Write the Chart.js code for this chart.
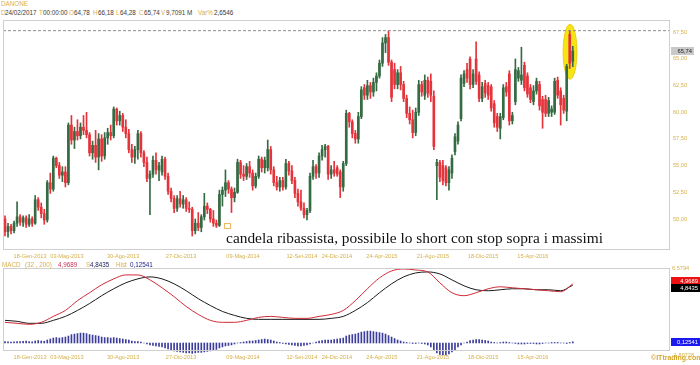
<!DOCTYPE html>
<html>
<head>
<meta charset="utf-8">
<script src="https://cdn.jsdelivr.net/npm/chart.js@4.4.1/dist/chart.umd.min.js"></script>
<style>
  html, body { margin: 0; padding: 0; background: #fff; }
  body { position: relative; width: 700px; height: 365px; overflow: hidden; font-family: "Liberation Sans", Arial, sans-serif; }
  canvas { position: absolute; left: 0; }
  #main { top: 0; }
  #macd { top: 256px; }
  .t { position: absolute; font-size: 6.3px; line-height: 8px; white-space: pre; }
  .g { color: #d6b04a; }
  .d { color: #3a3a3a; }
</style>
</head>
<body>
<div class="t g" style="left:1px;top:0px;">DANONE</div>
<div class="t g" style="left:1px;top:9px;">D</div><div class="t d" style="left:5px;top:9px;">24/02/2017</div>
<div class="t g" style="left:39px;top:9px;">T</div><div class="t d" style="left:43px;top:9px;">00:00:00</div>
<div class="t g" style="left:69px;top:9px;">O</div><div class="t d" style="left:74px;top:9px;">64,78</div>
<div class="t g" style="left:93px;top:9px;">H</div><div class="t d" style="left:98px;top:9px;">66,18</div>
<div class="t g" style="left:116px;top:9px;">L</div><div class="t d" style="left:120px;top:9px;">64,28</div>
<div class="t g" style="left:139px;top:9px;">C</div><div class="t d" style="left:144px;top:9px;">65,74</div>
<div class="t g" style="left:161px;top:9px;">V</div><div class="t d" style="left:166px;top:9px;">9,7091 M</div>
<div class="t g" style="left:198px;top:9px;">Var%</div><div class="t d" style="left:214px;top:9px;">2,6546</div>

<canvas id="main" width="700" height="262"></canvas>
<canvas id="macd" width="700" height="109"></canvas>

<div class="t g" style="left:2px;top:261px;">MACD</div>
<div class="t g" style="left:25px;top:261px;">(32 , 200)</div>
<div class="t" style="left:58px;top:261px;color:#c8305a;">4,9689</div>
<div class="t g" style="left:86px;top:261px;">S</div>
<div class="t" style="left:90px;top:261px;color:#20205a;">4,8435</div>
<div class="t g" style="left:116px;top:261px;">Hist</div>
<div class="t" style="left:130px;top:261px;color:#20208a;">0,12541</div>
<div class="t" style="left:651px;top:354px;color:#d6a830;font-weight:bold;font-size:7px;">©ITtrading.com</div>

<script>
// Weekly DANONE candles (EUR)
const opens  = [50.0,48.8,49.3,48.9,49.6,50.2,49.7,50.1,49.5,50.0,49.6,51.8,51.1,50.5,49.9,53.4,52.8,55.7,55.0,54.1,54.4,53.4,58.8,57.4,58.2,57.8,58.6,58.3,57.9,56.2,56.9,55.8,57.5,55.9,57.6,58.1,57.8,60.3,59.2,59.7,58.6,58.0,56.5,55.8,56.5,58.0,56.2,55.3,53.8,54.2,55.5,54.6,54.4,55.6,54.0,52.6,51.9,51.0,51.9,51.4,51.8,51.0,50.9,48.9,49.6,49.2,50.2,51.2,50.9,50.0,49.6,49.4,52.3,52.7,53.4,52.8,52.0,52.5,55.3,54.2,54.0,54.9,54.3,53.1,54.0,55.6,54.8,54.8,56.5,54.6,53.4,53.0,53.6,53.0,55.2,54.5,53.6,52.4,51.6,51.0,50.4,50.8,54.0,54.9,54.3,55.9,56.5,56.8,54.2,54.6,54.8,54.4,53.0,55.2,59.9,59.1,58.0,57.5,59.6,62.3,61.6,62.5,61.9,62.8,63.4,64.6,66.5,67.0,64.7,64.0,62.6,63.7,62.6,61.3,59.9,59.3,58.1,60.0,62.6,61.6,63.0,62.9,61.5,55.0,55.3,55.0,54.8,53.4,54.3,56.3,57.3,59.4,62.7,64.0,65.0,62.6,65.0,63.5,61.3,62.7,62.5,62.4,60.8,59.6,58.5,59.5,62.4,63.6,59.2,61.0,63.2,63.0,64.4,63.4,62.3,61.0,62.0,62.6,61.2,61.2,59.9,60.0,60.0,63.0,62.0,61.3,60.1,67.3,64.78];
const highs  = [50.3,49.6,49.5,49.8,51.6,50.4,50.3,50.3,50.4,50.2,52.2,52.0,51.5,50.9,53.6,54.3,55.9,55.8,55.3,54.9,54.9,59.0,59.7,58.6,59.3,59.0,59.7,60.0,58.1,57.3,58.3,58.0,57.9,58.1,58.5,58.8,60.5,60.4,60.1,59.9,59.3,58.4,57.0,56.8,58.3,58.2,56.4,55.8,54.5,55.9,56.2,55.3,55.9,55.8,54.3,52.9,52.2,52.2,52.6,52.2,52.0,51.6,51.1,50.0,50.6,50.4,52.4,51.5,51.0,50.8,49.9,52.7,53.0,54.6,53.6,53.0,52.9,55.6,55.5,55.0,55.2,55.4,54.6,54.3,55.9,55.8,55.8,57.4,56.8,54.9,54.0,53.9,53.9,55.6,55.4,55.0,53.9,52.8,52.7,51.5,51.0,54.3,55.5,55.1,56.2,56.9,57.0,56.9,55.0,55.4,55.0,54.6,55.4,60.2,60.0,59.3,58.3,60.0,62.4,62.6,63.0,62.8,63.2,63.7,64.9,67.0,67.3,67.65,64.9,64.6,64.0,64.3,62.9,61.6,60.5,60.2,60.4,63.0,62.9,63.5,63.3,63.6,62.0,55.6,55.5,55.5,55.0,54.9,56.0,58.0,59.1,63.5,63.9,64.6,65.2,64.0,66.6,63.8,62.8,63.0,62.8,62.6,61.1,59.9,59.9,62.6,62.8,63.9,60.0,65.0,64.2,66.1,64.7,63.7,62.6,62.5,63.2,62.9,61.5,61.6,61.4,60.6,63.2,63.3,62.3,61.6,64.5,67.6,66.18];
const lows   = [48.4,48.3,48.6,48.7,49.3,49.4,49.3,49.2,49.3,49.3,49.5,50.8,50.1,49.5,49.7,52.4,52.6,54.8,53.8,53.5,53.0,53.2,57.0,56.6,57.4,57.5,57.9,57.6,55.9,55.6,55.3,54.6,55.4,55.6,57.0,57.4,57.6,58.8,58.8,58.2,57.6,56.2,55.3,55.2,55.6,55.8,54.9,53.5,50.4,53.9,54.2,53.6,54.1,53.7,52.3,51.6,50.6,50.7,51.1,51.0,50.7,50.6,48.4,48.6,48.9,48.8,49.9,50.5,49.7,49.3,49.2,49.3,51.2,52.1,52.4,50.6,51.6,52.4,53.8,53.6,53.7,53.9,52.7,52.9,53.8,54.4,54.3,54.5,54.2,53.1,52.7,52.6,52.7,52.8,54.1,53.3,52.0,51.2,50.8,50.1,49.9,50.6,53.7,53.8,53.9,55.5,55.8,53.7,53.8,54.0,54.0,52.0,52.6,55.0,58.6,57.6,57.1,57.1,59.4,61.2,61.2,61.3,61.5,62.0,63.2,64.3,65.6,64.4,61.0,62.2,62.2,62.1,61.0,59.5,58.9,57.6,57.8,59.7,61.5,61.2,61.4,61.0,56.5,51.8,53.5,53.2,53.1,52.7,53.8,56.0,57.0,59.2,62.4,62.8,62.2,62.3,62.6,61.0,61.0,61.4,61.2,60.1,58.6,58.2,57.5,59.3,61.5,58.8,58.9,60.7,62.9,62.6,62.0,61.4,60.9,60.7,61.7,60.2,58.5,59.6,59.6,59.6,59.8,61.3,58.8,59.9,59.2,64.1,64.28];
const closes = [48.8,49.3,48.9,49.6,50.2,49.7,50.1,49.5,50.0,49.6,51.8,51.1,50.5,49.9,53.4,52.8,55.7,55.0,54.1,54.4,53.4,58.8,57.4,58.2,57.8,58.6,58.3,57.9,56.2,56.9,55.8,57.5,55.9,57.6,58.1,57.8,60.3,59.2,59.7,58.6,58.0,56.5,55.8,56.5,58.0,56.2,55.3,53.8,54.2,55.5,54.6,55.0,55.6,54.0,52.6,51.9,51.0,51.9,51.4,51.8,51.0,50.9,48.9,49.6,49.2,50.2,51.2,50.9,50.0,49.6,49.4,52.3,52.7,53.4,52.8,52.0,52.5,55.3,54.2,54.0,54.9,54.3,53.1,54.0,55.6,54.8,55.5,56.5,54.6,53.4,53.0,53.6,53.0,55.2,54.5,53.6,52.4,51.6,51.0,50.4,50.8,54.0,54.9,54.3,55.9,56.5,56.8,54.2,54.6,54.3,54.2,53.0,55.2,59.9,59.1,58.0,57.5,59.6,62.1,61.6,62.5,61.9,62.8,63.4,64.6,66.5,67.0,64.7,61.4,62.6,63.7,62.6,61.3,59.9,59.3,58.1,60.0,62.6,61.9,63.0,61.8,61.6,56.8,55.3,53.9,53.6,53.4,54.6,55.7,57.7,58.8,63.2,63.6,63.2,62.6,63.6,62.9,61.3,62.4,61.8,61.6,60.4,59.0,58.6,59.6,62.3,61.9,59.2,59.7,64.0,63.9,63.5,62.3,61.7,61.2,62.0,62.9,60.6,60.0,59.9,61.1,60.3,62.9,61.6,60.7,60.2,64.3,64.6,65.74];

// Price axis and date labels
const priceTicks = [50, 52.5, 55, 57.5, 60, 62.5, 65, 67.5];
const dateTickAt = [8.3, 20.5, 39.1, 58.3, 78.8, 98.3, 109.9, 124.8, 141.7, 158.3, 174.8];
const dateLabels = ['18-Gen-2013','03-Mag-2013','30-Ago-2013','27-Dic-2013','09-Mag-2014','12-Set-2014','24-Dic-2014','24-Apr-2015','21-Ago-2015','18-Dic-2015','15-Apr-2016'];
const resistance = 67.65;   // previous high, April 2015

// MACD (32,200): lines sampled every 4th week, histogram every week
const macdAt     = [0,4,8,12,16,20,24,28,32,36,40,44,48,52,56,60,64,68,72,76,80,84,88,92,96,100,104,108,112,116,120,124,128,132,136,140,144,148,152,156,160,164,168,172,176,180,184,188];
const macdLine   = [1.09,0.99,0.89,1.09,1.69,2.29,3.28,4.08,4.88,5.48,5.88,5.88,5.38,4.58,3.68,2.69,1.89,1.29,1.09,1.09,1.29,1.59,1.69,1.59,1.49,1.49,1.69,1.89,2.29,3.28,4.48,5.58,6.28,6.48,6.38,6.18,5.08,4.08,3.78,4.08,4.48,4.68,4.58,4.48,4.38,4.28,4.18,4.9689];
const signalLine = [1.29,1.19,0.99,0.99,1.29,1.69,2.29,2.99,3.78,4.48,5.08,5.48,5.68,5.48,4.98,4.28,3.48,2.79,2.19,1.79,1.49,1.39,1.39,1.39,1.39,1.39,1.39,1.49,1.69,2.29,3.08,4.08,4.98,5.68,6.08,6.18,5.98,5.38,4.78,4.38,4.28,4.38,4.48,4.48,4.38,4.38,4.28,4.8435];
const histogram  = [0.15,0.12,0.1,0.12,0.15,0.15,0.18,0.2,0.15,0.12,0.2,0.25,0.2,0.18,0.3,0.4,0.5,0.55,0.5,0.55,0.6,0.7,0.85,0.9,0.95,1.0,1.0,0.95,0.85,0.8,0.75,0.7,0.6,0.55,0.55,0.5,0.55,0.5,0.45,0.4,0.35,0.3,0.2,0.15,0.15,0.1,0.0,-0.1,-0.2,-0.25,-0.3,-0.35,-0.4,-0.5,-0.6,-0.7,-0.8,-0.85,-0.9,-0.95,-1.0,-1.0,-1.05,-1.0,-0.95,-0.95,-0.9,-0.85,-0.8,-0.75,-0.65,-0.5,-0.4,-0.3,-0.25,-0.2,-0.1,0.0,0.05,0.1,0.15,0.2,0.2,0.25,0.3,0.35,0.4,0.35,0.3,0.2,0.1,0.05,-0.05,-0.1,-0.15,-0.2,-0.25,-0.3,-0.3,-0.25,-0.2,-0.1,0.0,0.1,0.2,0.25,0.3,0.3,0.3,0.35,0.4,0.45,0.5,0.7,0.8,0.85,0.9,1.0,1.1,1.15,1.2,1.2,1.15,1.1,1.05,1.0,0.9,0.75,0.6,0.45,0.3,0.2,0.1,0.05,0.0,-0.05,-0.05,0.0,-0.05,-0.1,-0.2,-0.4,-0.7,-1.0,-1.15,-1.2,-1.2,-1.1,-0.9,-0.7,-0.4,-0.2,0.0,0.1,0.25,0.3,0.35,0.35,0.3,0.25,0.2,0.1,0.05,0.0,0.05,0.1,0.1,0.05,0.0,-0.05,-0.1,-0.1,-0.1,-0.05,-0.05,-0.05,-0.1,-0.1,-0.05,0.0,0.0,0.05,0.05,0.05,0.0,0.0,-0.05,0.05,0.12541];
const macdTop = 6.5794, macdBottom = -1.80728;

const GOLD = '#d6b04a', UP = '#356b43', DOWN = '#e5333b';
const X_MIN = -0.66, X_MAX = 220.2;
const fmt = (v, d) => v.toFixed(d).replace('.', ',');
const idx = opens.map((_, i) => i);
const candleColor = idx.map(i => closes[i] >= opens[i] ? UP : DOWN);
const tickFont = { family: 'Liberation Sans', size: 5.6 };

Chart.defaults.animation = false;
Chart.defaults.responsive = false;
Chart.defaults.events = [];
Chart.defaults.plugins.legend.display = false;
Chart.defaults.plugins.tooltip.enabled = false;

function dateAxis(height) {
  return {
    type: 'linear', min: X_MIN, max: X_MAX, offset: false,
    grid: { display: false, drawTicks: false }, border: { display: false },
    afterBuildTicks: s => { s.ticks = dateTickAt.map(v => ({ value: v })); },
    afterFit: s => { s.height = height; },
    ticks: { autoSkip: false, maxRotation: 0, padding: 3, color: GOLD, font: tickFont,
             callback: (v, i) => dateLabels[i] }
  };
}

const frame = {
  id: 'frame',
  afterDraw(chart) {
    const { ctx, chartArea: a } = chart;
    ctx.save();
    ctx.strokeStyle = '#cfcfcf';
    ctx.lineWidth = 1;
    ctx.strokeRect(Math.round(a.left) + 0.5, Math.round(a.top) + 0.5, Math.round(a.right - a.left) - 1, Math.round(a.bottom - a.top) - 1);
    ctx.restore();
  }
};

function valueBox(ctx, x, yc, w, text, bg, fg) {
  ctx.fillStyle = bg;
  ctx.fillRect(x, Math.round(yc) - 4, w, 8);
  ctx.fillStyle = fg;
  ctx.font = '5.8px "Liberation Sans"';
  ctx.textBaseline = 'middle';
  ctx.textAlign = 'right';
  ctx.fillText(text, x + w - 2, Math.round(yc) + 0.5);
}

const priceDecor = {
  id: 'priceDecor',
  beforeDatasetsDraw(chart) {
    // highlight of the last two weeks
    const { ctx, scales: { x, y } } = chart;
    const cx = x.getPixelForValue(187.1);
    const top = y.getPixelForValue(68.25), bot = y.getPixelForValue(63.1);
    const rx = x.getPixelForValue(189.4) - cx;
    ctx.save();
    ctx.beginPath();
    ctx.ellipse(cx, (top + bot) / 2, rx, (bot - top) / 2, 0, 0, Math.PI * 2);
    ctx.fillStyle = '#f6e512';
    ctx.fill();
    ctx.strokeStyle = '#e9c40a';
    ctx.lineWidth = 0.8;
    ctx.stroke();
    ctx.restore();
  },
  afterDraw(chart) {
    const { ctx, chartArea: a, scales: { x, y } } = chart;
    ctx.save();
    valueBox(ctx, a.right + 1, y.getPixelForValue(closes[closes.length - 1]), 23, fmt(closes[closes.length - 1], 2), '#c9c9c9', '#222');
    // comment on the chart
    const tx = x.getPixelForValue(73.2), ty = y.getPixelForValue(47.75);
    ctx.font = '15.4px "Liberation Serif"';
    ctx.fillStyle = '#111';
    ctx.textAlign = 'left';
    ctx.textBaseline = 'alphabetic';
    ctx.fillText('candela ribassista, possibile lo short con stop sopra i massimi', tx, ty);
    ctx.strokeStyle = '#f0b860';
    ctx.lineWidth = 1;
    ctx.strokeRect(Math.round(tx) - 1.5, Math.round(ty) - 19.5, 6, 5);
    ctx.restore();
  }
};

new Chart(document.getElementById('main'), {
  data: {
    datasets: [
      { type: 'bar', data: idx.map(i => ({ x: i, y: [lows[i], highs[i]] })), backgroundColor: candleColor,
        barThickness: 1, grouped: false, order: 2 },
      { type: 'bar', data: idx.map(i => ({ x: i, y: [Math.min(opens[i], closes[i]), Math.max(opens[i], closes[i])] })),
        backgroundColor: candleColor, barThickness: 2, grouped: false, minBarLength: 1, order: 1 },
      { type: 'line', data: [{ x: X_MIN, y: resistance }, { x: X_MAX, y: resistance }], borderColor: '#8c8c8c',
        borderWidth: 1, borderDash: [3, 2], pointRadius: 0, order: 0 }
    ]
  },
  options: {
    layout: { padding: { left: 3, top: 20, right: 0, bottom: 0 } },
    scales: {
      x: dateAxis(12),
      y: {
        position: 'right', min: 47.09, max: 68.65,
        grid: { display: false, drawTicks: false }, border: { display: false },
        afterBuildTicks: s => { s.ticks = priceTicks.map(v => ({ value: v })); },
        afterFit: s => { s.width = 30; },
        ticks: { padding: 3, color: GOLD, font: tickFont, callback: v => fmt(v, 2) }
      }
    }
  },
  plugins: [priceDecor, frame]
});

const macdDecor = {
  id: 'macdDecor',
  afterDraw(chart) {
    const { ctx, chartArea: a, scales: { y, yh } } = chart;
    ctx.save();
    ctx.font = '5.6px "Liberation Sans"';
    ctx.fillStyle = GOLD;
    ctx.textAlign = 'left';
    ctx.textBaseline = 'middle';
    ctx.fillText(fmt(macdTop, 4), a.right + 2, a.top);
    ctx.fillText(fmt(macdBottom, 5), a.right + 2, a.bottom + 4);
    const last = macdLine.length - 1;
    valueBox(ctx, a.right + 1, y.getPixelForValue(macdLine[last]) - 3, 29, fmt(macdLine[last], 4), '#ee1111', '#fff');
    valueBox(ctx, a.right + 1, y.getPixelForValue(signalLine[last]) + 3, 29, fmt(signalLine[last], 4), '#000', '#fff');
    valueBox(ctx, a.right + 1, yh.getPixelForValue(histogram[histogram.length - 1]), 29, fmt(histogram[histogram.length - 1], 5), '#1a1aee', '#fff');
    ctx.restore();
  }
};

new Chart(document.getElementById('macd'), {
  data: {
    datasets: [
      { type: 'bar', yAxisID: 'yh', data: idx.map(i => ({ x: i, y: histogram[i] })), backgroundColor: '#3c3c9c',
        barThickness: 1, grouped: false, clip: false, order: 3 },
      { type: 'line', yAxisID: 'y', data: macdAt.map((v, k) => ({ x: v, y: signalLine[k] })), borderColor: '#1a1a1a',
        borderWidth: 1, pointRadius: 0, cubicInterpolationMode: 'monotone', order: 2 },
      { type: 'line', yAxisID: 'y', data: macdAt.map((v, k) => ({ x: v, y: macdLine[k] })), borderColor: '#d02a36',
        borderWidth: 1, pointRadius: 0, cubicInterpolationMode: 'monotone', order: 1 }
    ]
  },
  options: {
    layout: { padding: { left: 3, top: 12, right: 0, bottom: 0 } },
    scales: {
      x: dateAxis(14),
      y: {
        position: 'right', min: macdBottom, max: macdTop,
        grid: { display: false, drawTicks: false }, border: { display: false },
        afterFit: s => { s.width = 30; },
        ticks: { display: false }
      },
      yh: { display: false, min: -0.81, max: 7.58 }
    }
  },
  plugins: [macdDecor, frame]
});
</script>
</body>
</html>
